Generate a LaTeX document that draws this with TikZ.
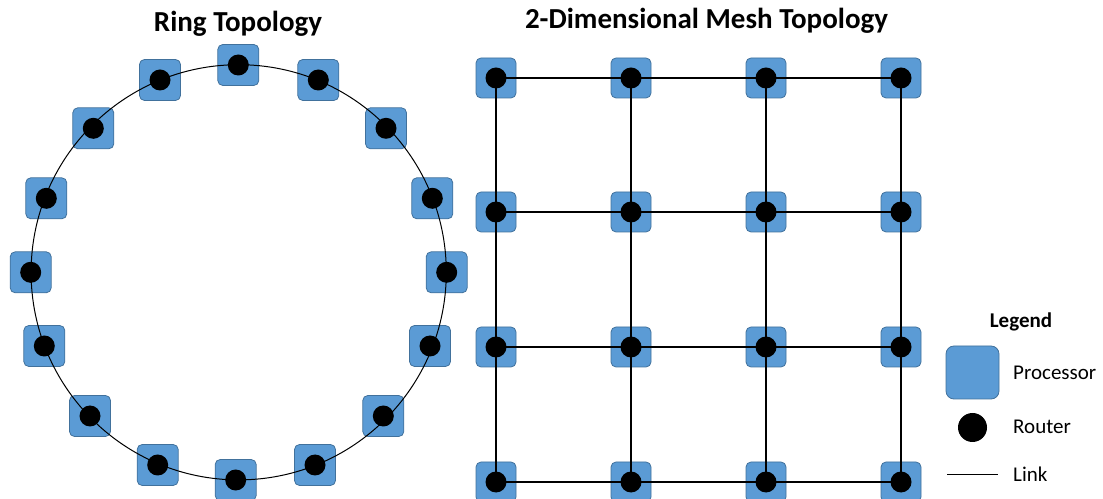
\documentclass[tikz,border=0pt]{standalone}
\usepackage{fontspec}
\setmainfont{Carlito}
\definecolor{procfill}{HTML}{5B9BD5}
\definecolor{procborder}{HTML}{41719C}
\pgfdeclarelayer{bg}
\pgfdeclarelayer{lk}
\pgfsetlayers{bg,lk,main}
\tikzset{
  proc/.style={draw=procborder, fill=procfill, line width=0.8pt, rounded corners=5pt, minimum size=41pt, inner sep=0pt},
  meshproc/.style={proc, minimum size=40pt},
  router/.style={circle, fill=black, minimum size=21pt, inner sep=0pt},
  link/.style={draw=black, line width=1.2pt},
  title/.style={font=\fontsize{29}{34}\selectfont\bfseries, anchor=base, inner sep=0pt},
  legtext/.style={font=\fontsize{21}{25}\selectfont, anchor=base west, inner sep=0pt}
}
\begin{document}
\begin{tikzpicture}[x=1pt,y=1pt]
\useasboundingbox (0,0) rectangle (1103,498);
% titles
\node[title] (ringtitle) at (238,466) {Ring Topology};
\node[title] (meshtitle) at (706.5,469) {2-Dimensional Mesh Topology};
% ring
\coordinate (ringc) at (238.7,225.7);
\foreach \i/\x/\y in {1/238.3/433, 2/318.3/418, 3/386/369.7, 4/432.3/299.7,
  5/446.7/225.7, 6/430/152, 7/383.3/82, 8/315/33, 9/235.7/18, 10/157.7/33,
  11/90/82, 12/44.3/152, 13/30.7/225.7, 14/46.3/299.7, 15/93.3/369.7, 16/160/418}{
  \begin{pgfonlayer}{bg}
    \node[proc] (rp\i) at (\x,\y) {};
  \end{pgfonlayer}
  \node[router] (rr\i) at (\x,\y) {};
}
\begin{pgfonlayer}{lk}
  \draw[link, line width=1pt] (ringc) circle[radius=207.6];
\end{pgfonlayer}
% mesh
\foreach \c/\x in {1/496, 2/631, 3/766, 4/901}{
  \foreach \r/\y in {1/420, 2/286, 3/151, 4/16}{
    \begin{pgfonlayer}{bg}
      \node[meshproc] (mp\c\r) at (\x,\y) {};
    \end{pgfonlayer}
    \node[router] (mr\c\r) at (\x,\y) {};
  }
}
\begin{pgfonlayer}{lk}
  \foreach \c in {1,2,3,4}{
    \draw[link] (mr\c1.center) -- (mr\c2.center) -- (mr\c3.center) -- (mr\c4.center);
    \draw[link] (mr1\c.center) -- (mr2\c.center) -- (mr3\c.center) -- (mr4\c.center);
  }
\end{pgfonlayer}
% legend
\node[font=\fontsize{21}{25}\selectfont\bfseries, anchor=base, inner sep=0pt] (legtitle) at (1021,170) {Legend};
\node[proc, minimum size=53pt, rounded corners=8pt] (legproc) at (972.5,125.5) {};
\node[legtext] (legproctext) at (1013,118) {Processor};
\node[router, minimum size=29pt] (legrouter) at (972.5,70.5) {};
\node[legtext] (legroutertext) at (1013,64.7) {Router};
\coordinate (linka) at (947,23);
\coordinate (linkb) at (998,23);
\draw[link, line width=1pt] (linka) -- (linkb);
\node[legtext] (leglinktext) at (1013,16.3) {Link};
\end{tikzpicture}
\end{document}
